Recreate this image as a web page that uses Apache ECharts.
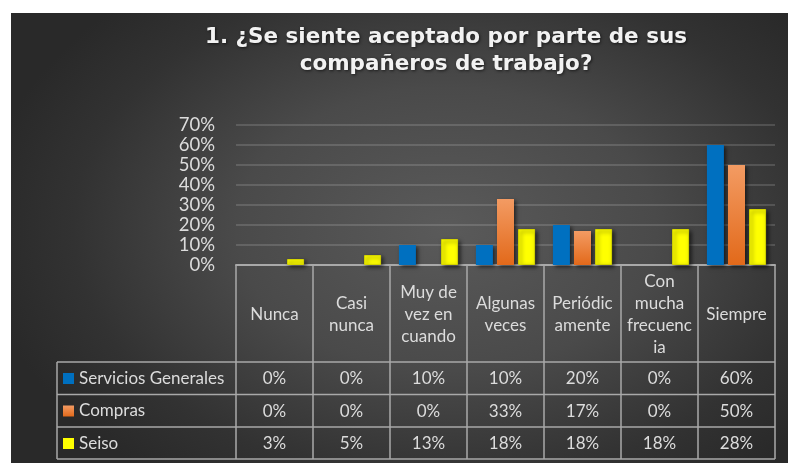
<!DOCTYPE html>
<html>
<head>
<meta charset="utf-8">
<script src="https://cdn.jsdelivr.net/npm/echarts@6/dist/echarts.min.js"></script>
<style>
  html, body { margin: 0; padding: 0; background: #fff; }
  #bg {
    position: absolute; left: 11px; top: 13px; width: 777px; height: 450px;
    background: radial-gradient(ellipse 60% 70% at 56% 48%, #5a5a5a 0%, #4a4a4a 45%, #323232 80%, #292929 100%);
  }
  #chart { position: absolute; left: 0; top: 0; width: 788px; height: 463px; }
</style>
</head>
<body>
<div id="bg"></div>
<div id="chart"></div>
<script>
/* 1. ¿Se siente aceptado por parte de sus compañeros de trabajo? */

const categories = ["Nunca", "Casi nunca", "Muy de vez en cuando", "Algunas veces", "Periódicamente", "Con mucha frecuencia", "Siempre"];
// how Excel wrapped the header cells
const categoryLabels = ["Nunca", "Casi\nnunca", "Muy de\nvez en\ncuando", "Algunas\nveces", "Periódic\namente", "Con\nmucha\nfrecuenc\nia", "Siempre"];
const seriesNames = ["Servicios Generales", "Compras", "Seiso"];
const serviciosGenerales = [0, 0, 0.10, 0.10, 0.20, 0, 0.60];
const compras = [0, 0, 0, 0.33, 0.17, 0, 0.50];
const seiso = [0.03, 0.05, 0.13, 0.18, 0.18, 0.18, 0.28];
const yTicks = [0, 0.1, 0.2, 0.3, 0.4, 0.5, 0.6, 0.7];

const FONT = "Lato";
const FS = 17;
const TXT = "#dcdcdc";
const LINE = "#a9a9a9";

function pct(v) { return Math.round(v * 100) + "%"; }

// ------------- table rows as extra x axes -------------
const rowOffsets = [114, 147, 179];
const rowAxes = [serviciosGenerales, compras, seiso].map((vals, k) => ({
  type: "category",
  data: categories,
  position: "bottom",
  offset: rowOffsets[k],
  axisLine: {show: false},
  axisTick: {show: false},
  axisLabel: {
    interval: 0, margin: 0, verticalAlign: "middle",
    color: TXT, fontFamily: FONT, fontSize: FS,
    formatter: (v, i) => pct(vals[i]),
  },
}));

const shadow = {shadowBlur: 4, shadowColor: "rgba(0,0,0,0.6)", shadowOffsetX: 2, shadowOffsetY: 2};

const chart = echarts.init(document.getElementById("chart"), null, {renderer: "canvas"});
chart.setOption({
  animation: false,
  title: {
    text: "1. ¿Se siente aceptado por parte de sus\ncompañeros de trabajo?",
    left: 441, top: 19, textAlign: "center",
    textStyle: {
      color: "#f2f2f2", fontFamily: "DejaVu Sans", fontWeight: "bold", fontSize: 21.5, lineHeight: 27,
      textShadowColor: "rgba(0,0,0,0.6)", textShadowBlur: 3, textShadowOffsetX: 1, textShadowOffsetY: 1,
    },
  },
  legend: {
    orient: "vertical",
    left: 63, top: 370, padding: 0,
    itemWidth: 11, itemHeight: 11, itemGap: 15.5,
    icon: "rect",
    itemStyle: {borderWidth: 0, shadowBlur: 0, shadowOffsetX: 0, shadowOffsetY: 0},
    textStyle: {color: TXT, fontFamily: FONT, fontSize: FS, lineHeight: 17},
    data: seriesNames,
    selectedMode: false,
  },
  grid: {left: 236, right: 13, top: 125, bottom: 198},
  xAxis: [{
    type: "category",
    data: categories,
    position: "bottom",
    axisLine: {lineStyle: {color: LINE, width: 2}},
    axisTick: {show: true, interval: 0, length: 194, lineStyle: {color: LINE, width: 1.5}},
    axisLabel: {
      interval: 0, margin: 50, verticalAlign: "middle", lineHeight: 22,
      color: TXT, fontFamily: FONT, fontSize: FS,
      formatter: (v, i) => categoryLabels[i],
    },
  }].concat(rowAxes),
  yAxis: {
    type: "value",
    min: yTicks[0], max: yTicks[yTicks.length - 1], interval: 0.1,
    axisLine: {show: false},
    axisTick: {show: false},
    splitLine: {lineStyle: {color: "rgba(255,255,255,0.14)", width: 2}},
    axisLabel: {color: TXT, fontFamily: FONT, fontSize: 18.5, margin: 21, formatter: v => pct(v)},
  },
  series: [
    {
      name: seriesNames[0], type: "bar", data: serviciosGenerales,
      barWidth: 17, barGap: "24%",
      itemStyle: Object.assign({color: "#0070c0"}, shadow),
    },
    {
      name: seriesNames[1], type: "bar", data: compras,
      barWidth: 17, barGap: "24%",
      itemStyle: Object.assign({
        color: new echarts.graphic.LinearGradient(0, 0, 0, 1, [
          {offset: 0, color: "#f39b63"},
          {offset: 1, color: "#e2691a"},
        ]),
      }, shadow),
    },
    {
      name: seriesNames[2], type: "bar", data: seiso,
      barWidth: 17, barGap: "24%",
      itemStyle: Object.assign({color: "#ffff00", borderColor: "#d4d400", borderWidth: 1}, shadow),
    },
  ],
  // table grid lines for the legend column and the rows
  graphic: [
    {type: "line", shape: {x1: 57, y1: 362, x2: 775, y2: 362}, style: {stroke: LINE, lineWidth: 1.5}},
    {type: "line", shape: {x1: 57, y1: 394.5, x2: 775, y2: 394.5}, style: {stroke: LINE, lineWidth: 1.5}},
    {type: "line", shape: {x1: 57, y1: 427, x2: 775, y2: 427}, style: {stroke: LINE, lineWidth: 1.5}},
    {type: "line", shape: {x1: 57, y1: 459, x2: 775, y2: 459}, style: {stroke: LINE, lineWidth: 1.5}},
    {type: "line", shape: {x1: 57, y1: 362, x2: 57, y2: 459}, style: {stroke: LINE, lineWidth: 1.5}},
  ],
});
</script>
</body>
</html>
